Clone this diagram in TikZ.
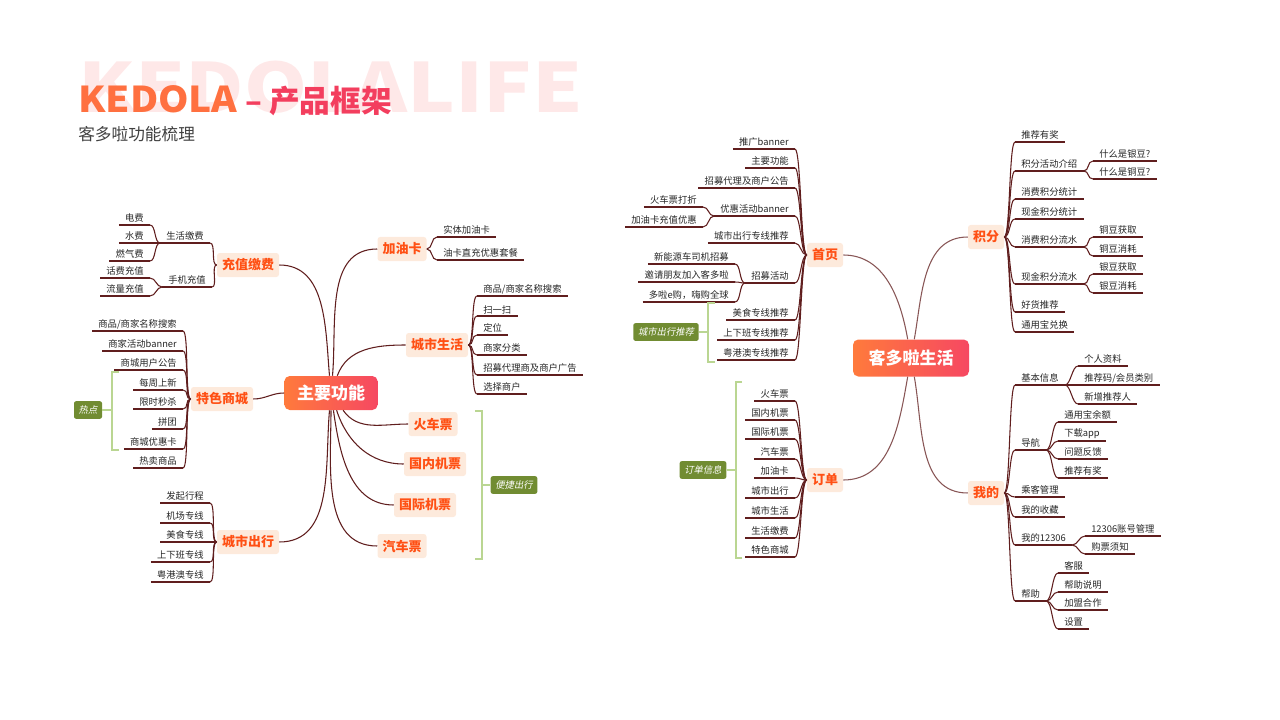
\documentclass[tikz,border=0pt]{standalone}
\usepackage{fontspec}
\setmainfont{Noto Sans CJK SC}
\newfontfamily\tagfont{Noto Sans CJK SC}[FakeSlant=0.2]
\usepackage{graphicx}
\usepackage{tikz}
\usepackage{xcolor}

\definecolor{linec}{RGB}{96,30,30}
\definecolor{peach}{RGB}{253,234,220}
\definecolor{topicc}{RGB}{255,80,20}
\definecolor{hubl}{RGB}{255,122,60}
\definecolor{hubr}{RGB}{246,72,98}
\definecolor{brkc}{RGB}{186,214,146}
\definecolor{tagc}{RGB}{113,140,50}
\definecolor{wmc}{RGB}{254,232,232}
\definecolor{kedc}{RGB}{255,112,64}
\definecolor{pinkc}{RGB}{243,62,94}

\begin{document}
\begin{tikzpicture}
  [x=0.75pt,y=-0.75pt,
   link/.style={draw=linec,line width=0.8pt},
   bl/.style={to path={.. controls +(-6,0) and +(6,0) .. (\tikztotarget)}},
   br/.style={to path={.. controls +(6,0) and +(-6,0) .. (\tikztotarget)}},
   leaf/.style={font=\fontsize{7}{8.5}\selectfont,text=black!85,inner xsep=4.5pt,inner ysep=1.5pt,
     append after command={(\tikzlastnode.south west) edge[link] (\tikzlastnode.south east)}},
   ll/.style={leaf,anchor=south east},
   lr/.style={leaf,anchor=south west},
   topic/.style={fill=peach,text=topicc,font=\bfseries\fontsize{9.75}{11}\selectfont,
     rounded corners=2pt,inner xsep=3.75pt,minimum height=18pt},
   hub/.style={left color=hubl,right color=hubr,text=white,font=\bfseries\fontsize{12.75}{14}\selectfont,
     rounded corners=4pt,minimum width=70pt,minimum height=25.5pt},
   tag/.style={fill=tagc,text=white,font=\tagfont\fontsize{7}{8.5}\selectfont,
     rounded corners=1.5pt,inner xsep=3.5pt,minimum height=12.75pt},
   brk/.style={draw=brkc,line width=1.9pt}]
  \useasboundingbox (0,0) rectangle (1280,720);

  % title
  \node[anchor=base west,inner sep=0,text=wmc,font=\bfseries\fontsize{51}{51}\selectfont] (wm) at (78,113) {\scalebox{1.18}[1]{KEDOLALIFE}};
  \node[anchor=base west,inner sep=0,text=kedc,font=\bfseries\fontsize{26.7}{27}\selectfont] (ttl) at (78,113) {\scalebox{1.09}[1]{KEDOLA}};
  \node[anchor=base west,inner sep=0,text=pinkc,font=\bfseries\fontsize{23}{23}\selectfont] (ttl2) at (245,113) {– 产品框架};
  \node[anchor=base west,inner sep=0,text=black!75,font=\fontsize{12.5}{13}\selectfont] (sub) at (78,141) {客多啦功能梳理};

  % main functions
  \node[hub] (main) at (331,393) {主要功能};
  \node[topic] (czjf) at (248,265) {充值缴费};
  \node[topic] (tssc) at (222,399) {特色商城};
  \node[topic] (csdx) at (248,542) {城市出行};
  \node[topic] (jyk) at (402,249) {加油卡};
  \node[topic] (cssh) at (437,345) {城市生活};
  \node[topic] (hcp) at (433,424) {火车票};
  \node[topic] (gnjp) at (435,464) {国内机票};
  \node[topic] (gjjp) at (425,505) {国际机票};
  \node[topic] (qcp) at (402,546) {汽车票};

  \foreach \to/\o/\i in {czjf/95/0,tssc/180/0,csdx/-95/0,jyk/85/180,cssh/70/180,hcp/-55/180,gnjp/-72/180,gjjp/-82/180,qcp/-90/180}
    \draw[link] (main) to[out=\o,in=\i] (\to);

  % recharge
  \node[ll] (shjf) at (210,243) {生活缴费};
  \node[ll] (sjcz) at (212,287) {手机充值};
  \foreach \i/\y/\lab in {1/225/电费,2/243/水费,3/261/燃气费}
    \node[ll] (sh\i) at (150,\y) {\lab};
  \foreach \i/\y/\lab in {1/278/话费充值,2/296/流量充值}
    \node[ll] (sj\i) at (150,\y) {\lab};
  \draw[link,bl] (czjf.west) to (shjf.south east);
  \draw[link,bl] (czjf.west) to (sjcz.south east);
  \foreach \i in {1,2,3} \draw[link,bl] (shjf.south west) to (sh\i.south east);
  \foreach \i in {1,2} \draw[link,bl] (sjcz.south west) to (sj\i.south east);

  % mall
  \foreach \i/\y/\lab in {1/331/{商品/商家名称搜索},2/351/商家活动banner,3/370/商城用户公告,4/390/每周上新,5/409/限时秒杀,6/429/拼团,7/449/商城优惠卡,8/468/热卖商品}
    \node[ll] (ts\i) at (183,\y) {\lab};
  \foreach \i in {1,...,8} \draw[link,bl] (tssc.west) to (ts\i.south east);
  \node[tag] (rd) at (88,410) {热点};
  \coordinate (rdb) at (112,410);
  \draw[brk] (119,372) -- (112,372) -- (112,450) -- (119,450);
  \draw[brk] (rd) -- (rdb);

  % city trip
  \foreach \i/\y/\lab in {1/503/发起行程,2/523/机场专线,3/542/美食专线,4/562/上下班专线,5/582/粤港澳专线}
    \node[ll] (cx\i) at (210,\y) {\lab};
  \foreach \i in {1,...,5} \draw[link,bl] (csdx.west) to (cx\i.south east);

  % fuel card
  \foreach \i/\y/\lab in {1/237/实体加油卡,2/260/油卡直充优惠套餐}
    \node[lr] (jy\i) at (437,\y) {\lab};
  \foreach \i in {1,2} \draw[link,br] (jyk.east) to (jy\i.south west);

  % city life
  \foreach \i/\y/\lab in {1/296/{商品/商家名称搜索},2/316/扫一扫,3/335/定位,4/355/商家分类,5/375/招募代理商及商户广告,6/394/选择商户}
    \node[lr] (sh\i) at (477,\y) {\lab};
  \foreach \i in {1,...,6} \draw[link,br] (cssh.east) to (sh\i.south west);

  % tickets
  \node[tag] (bj) at (514,485) {便捷出行};
  \coordinate (bjb) at (482,485);
  \draw[brk] (475,411) -- (482,411) -- (482,559) -- (475,559);
  \draw[brk] (bjb) -- (bj);

  % kedola life
  \node[hub,minimum width=87pt,minimum height=27.75pt] (hub) at (911,358) {客多啦生活};
  \node[topic] (sy) at (825,255) {首页};
  \node[topic] (dd) at (825,480) {订单};
  \node[topic] (jf) at (986,237) {积分};
  \node[topic] (wd) at (986,493) {我的};

  \foreach \to/\o/\i in {sy/100/0,dd/-100/0,jf/80/180,wd/-80/180}
    \draw[link,draw=linec!75] (hub) to[out=\o,in=\i] (\to);

  % home page
  \foreach \i/\y/\lab in {1/149/推广banner,2/168/主要功能,3/188/招募代理及商户公告,4/216/优惠活动banner,5/243/城市出行专线推荐,6/283/招募活动,7/320/美食专线推荐,8/340/上下班专线推荐,9/360/粤港澳专线推荐}
    \node[ll] (sy\i) at (795,\y) {\lab};
  \foreach \i in {1,...,9} \draw[link,bl] (sy.west) to (sy\i.south east);
  \foreach \i/\y/\lab in {1/207/火车票打折,2/227/加油卡充值优惠}
    \node[ll] (yh\i) at (703,\y) {\lab};
  \foreach \i in {1,2} \draw[link,bl] (sy4.south west) to (yh\i.south east);
  \foreach \i/\y/\lab in {1/264/新能源车司机招募,2/282/邀请朋友加入客多啦,3/302/多啦e购，嗨购全球}
    \node[ll] (zm\i) at (735,\y) {\lab};
  \foreach \i in {1,2,3} \draw[link,bl] (sy6.south west) to (zm\i.south east);
  \node[tag] (cxtj) at (666,332) {城市出行推荐};
  \coordinate (cxtjb) at (708,332);
  \draw[brk] (715,303) -- (708,303) -- (708,362) -- (715,362);
  \draw[brk] (cxtj) -- (cxtjb);

  % orders
  \foreach \i/\y/\lab in {1/401/火车票,2/420/国内机票,3/439/国际机票,4/459/汽车票,5/478/加油卡,6/498/城市出行,7/518/城市生活,8/538/生活缴费,9/557/特色商城}
    \node[ll] (dd\i) at (795,\y) {\lab};
  \foreach \i in {1,...,9} \draw[link,bl] (dd.west) to (dd\i.south east);
  \node[tag] (ddxx) at (703,470) {订单信息};
  \coordinate (ddxxb) at (736,470);
  \draw[brk] (742,382) -- (736,382) -- (736,558) -- (742,558);
  \draw[brk] (ddxx) -- (ddxxb);

  % points
  \foreach \i/\y/\lab in {1/142/推荐有奖,2/171/积分活动介绍,3/199/消费积分统计,4/219/现金积分统计,5/247/消费积分流水,6/284/现金积分流水,7/312/好货推荐,8/332/通用宝兑换}
    \node[lr] (jf\i) at (1015,\y) {\lab};
  \foreach \i in {1,...,8} \draw[link,br] (jf.east) to (jf\i.south west);
  \foreach \i/\y/\lab in {1/161/什么是银豆?,2/179/什么是铜豆?}
    \node[lr] (jfa\i) at (1093,\y) {\lab};
  \foreach \i/\y/\lab in {1/237/铜豆获取,2/256/铜豆消耗}
    \node[lr] (jfb\i) at (1093,\y) {\lab};
  \foreach \i/\y/\lab in {1/274/银豆获取,2/293/银豆消耗}
    \node[lr] (jfc\i) at (1093,\y) {\lab};
  \foreach \i in {1,2} {
    \draw[link,br] (jf2.south east) to (jfa\i.south west);
    \draw[link,br] (jf5.south east) to (jfb\i.south west);
    \draw[link,br] (jf6.south east) to (jfc\i.south west);
  }

  % mine
  \foreach \i/\y/\lab in {1/385/基本信息,2/450/导航,3/497/乘客管理,4/517/我的收藏,5/545/我的12306,6/601/帮助}
    \node[lr] (wd\i) at (1015,\y) {\lab};
  \foreach \i in {1,...,6} \draw[link,br] (wd.east) to (wd\i.south west);
  \foreach \i/\y/\lab in {1/366/个人资料,2/385/{推荐码/会员类别},3/404/新增推荐人}
    \node[lr] (wda\i) at (1078,\y) {\lab};
  \foreach \i/\y/\lab in {1/422/通用宝余额,2/441/下载app,3/459/问题反馈,4/478/推荐有奖}
    \node[lr] (wdb\i) at (1058,\y) {\lab};
  \foreach \i/\y/\lab in {1/536/12306账号管理,2/554/购票须知}
    \node[lr] (wdc\i) at (1085,\y) {\lab};
  \foreach \i/\y/\lab in {1/573/客服,2/592/帮助说明,3/610/加盟合作,4/629/设置}
    \node[lr] (wdd\i) at (1058,\y) {\lab};
  \foreach \i in {1,2,3} \draw[link,br] (wd1.south east) to (wda\i.south west);
  \foreach \i in {1,...,4} \draw[link,br] (wd2.south east) to (wdb\i.south west);
  \foreach \i in {1,2} \draw[link,br] (wd5.south east) to (wdc\i.south west);
  \foreach \i in {1,...,4} \draw[link,br] (wd6.south east) to (wdd\i.south west);
\end{tikzpicture}
\end{document}
